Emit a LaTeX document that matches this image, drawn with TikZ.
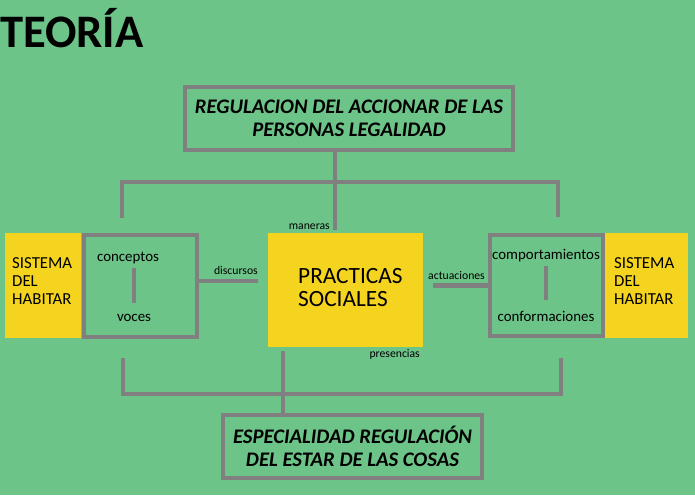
\documentclass[tikz,border=0pt]{standalone}
\usepackage{fontspec}
\setmainfont{Carlito}
\definecolor{mGreen}{HTML}{6DC488}
\definecolor{mYellow}{HTML}{F5D41F}
\definecolor{mGrey}{HTML}{808080}
\tikzset{
  gbox/.style={draw=mGrey, line width=4.5pt, inner sep=0pt},
  ybox/.style={fill=mYellow, inner sep=0pt},
  systext/.style={inner sep=0pt, anchor=north west, align=left, font=\fontsize{16.8}{18}\selectfont},
  conn/.style={draw=mGrey, line width=4.5pt},
  word/.style={inner sep=0pt, anchor=base, font=\fontsize{14.9}{16}\selectfont},
  tag/.style={inner sep=0pt, font=\fontsize{11.7}{13}\selectfont},
  head/.style={align=center, font=\fontsize{20.7}{23}\selectfont\bfseries\itshape}
}
\begin{document}
\begin{tikzpicture}[x=1pt, y=-1pt]
  \fill[mGreen] (0,0) rectangle (695,495);
  \useasboundingbox (0,0) rectangle (695,495);
  \node[inner sep=0pt, anchor=base west, font=\fontsize{46.6}{50}\selectfont\bfseries] (t) at (0,48) {TEORÍA};
  % boxes
  \node[gbox, head, minimum width=328pt, minimum height=63pt] (m0) at (349,118.5) {REGULACION DEL ACCIONAR DE LAS\\PERSONAS LEGALIDAD};
  \node[ybox, minimum width=76pt, minimum height=105pt] (s0) at (43,285.5) {};
  \node[systext] (s0t) at (12,257.5) {SISTEMA\\DEL\\HABITAR};
  \node[gbox, minimum width=113pt, minimum height=102pt] (g0) at (140.5,286) {};
  \node[ybox, minimum width=155pt, minimum height=114pt] (p0) at (345.5,290) {};
  \node[systext, font=\fontsize{23.3}{23}\selectfont] (p0t) at (298,268) {PRACTICAS\\SOCIALES};
  \node[gbox, minimum width=113pt, minimum height=101pt] (g1) at (546.5,285.5) {};
  \node[ybox, minimum width=83pt, minimum height=105pt] (s1) at (646.5,285.5) {};
  \node[systext] (s1t) at (614,257.5) {SISTEMA\\DEL\\HABITAR};
  \node[gbox, head, minimum width=259pt, minimum height=63pt] (m1) at (352.5,446.5) {ESPECIALIDAD REGULACIÓN\\DEL ESTAR DE LAS COSAS};
  % words in the boxes
  \node[word] (w0) at (128,261) {conceptos};
  \node[word] (w1) at (134,321) {voces};
  \node[word] (w2) at (546,259) {comportamientos};
  \node[word] (w3) at (546,321) {conformaciones};
  \draw[mGrey, line width=4pt, shorten <=4pt, shorten >=11pt] (w1.north |- w0.south) -- (w1.north);
  \draw[mGrey, line width=4pt, shorten <=4pt, shorten >=11pt] (w3.north |- w2.south) -- (w3.north);
  % connectors
  \coordinate (k0) at (335,182);
  \coordinate (kL) at (122,218);
  \coordinate (kR) at (558,217);
  \draw[conn, shorten >=3pt] (m0.south -| k0) -- (p0.north -| k0);
  \draw[conn] (kL) |- (k0) -| (kR);
  \draw[conn, shorten >=10pt] ([yshift=5pt]g0.east) -- ([yshift=5pt]g0.east -| p0.west);
  \draw[conn, shorten <=10pt] (p0.east |- g1.west) -- (g1.west);
  \coordinate (k1) at (283,394);
  \coordinate (kl) at (123,358);
  \coordinate (kr) at (561,358);
  \draw[conn, shorten <=4pt] (p0.south -| k1) -- (m1.north -| k1);
  \draw[conn] (kl) |- (k1) -| (kr);
  % labels
  \node[tag, anchor=base east] (l0) at (330,229) {maneras};
  \node[tag, anchor=base east] (l1) at (258,274) {discursos};
  \node[tag, anchor=base east] (l2) at (485,279) {actuaciones};
  \node[tag, anchor=base east] (l3) at (420,357) {presencias};
\end{tikzpicture}
\end{document}
